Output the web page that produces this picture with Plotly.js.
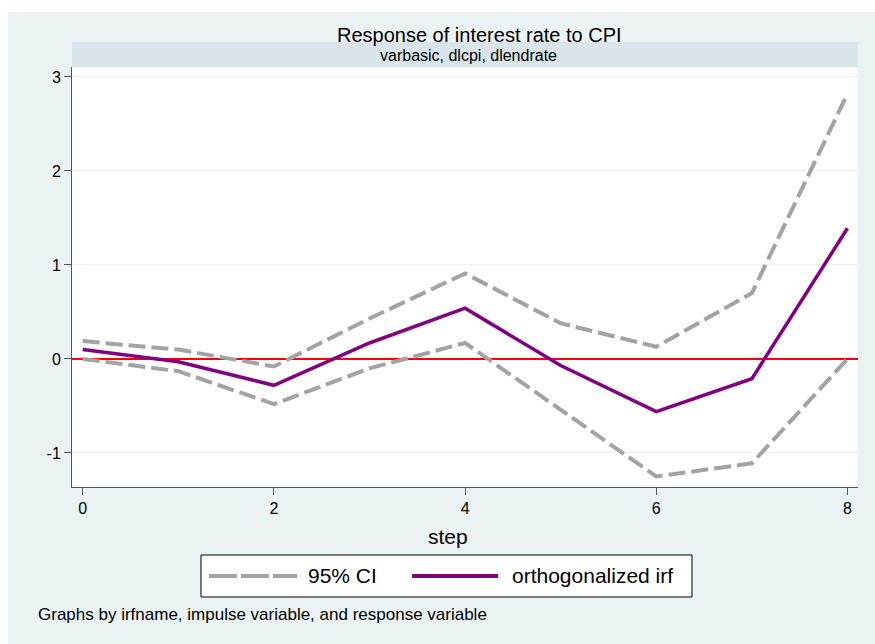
<!DOCTYPE html>
<html>
<head>
<meta charset="utf-8">
<script src="https://cdn.plot.ly/plotly-3.0.1.min.js"></script>
<style>
  html, body { margin: 0; padding: 0; background: #ffffff; }
  #chart { position: absolute; left: 8px; top: 12px; width: 867px; height: 632px; }
</style>
</head>
<body>
<div id="chart"></div>
<script>
// Data
const steps = [0, 1, 2, 3, 4, 5, 6, 7, 8];
const irf   = [0.10, -0.03, -0.28, 0.17, 0.54, -0.07, -0.56, -0.21, 1.39];
const ciUpper = [0.19, 0.10, -0.08, 0.43, 0.91, 0.38, 0.13, 0.70, 2.82];
const ciLower = [0.00, -0.13, -0.48, -0.10, 0.17, -0.54, -1.25, -1.11, 0.00];
const xTicks = [0, 2, 4, 6, 8];
const yTicks = [-1, 0, 1, 2, 3];
const titleText = "Response of interest rate to CPI";
const subtitleText = "varbasic, dlcpi, dlendrate";
const legendLabels = ["95% CI", "orthogonalized irf"];
const noteText = "Graphs by irfname, impulse variable, and response variable";

const FONT = "Liberation Sans, Arial, sans-serif";
const GRAY = "#a3a3a3";
const PURPLE = "#800080";

const traces = [
  { x: steps, y: ciUpper, mode: "lines", line: { color: GRAY, width: 4, dash: "17px,6px" }, showlegend: false, hoverinfo: "skip" },
  { x: steps, y: ciLower, mode: "lines", line: { color: GRAY, width: 4, dash: "17px,6px" }, showlegend: false, hoverinfo: "skip" },
  { x: steps, y: irf, mode: "lines", line: { color: PURPLE, width: 3.5 }, showlegend: false, hoverinfo: "skip" }
];

const layout = {
  width: 867, height: 632,
  margin: { l: 64, r: 17, t: 55, b: 157 },
  paper_bgcolor: "#eaf2f3",
  plot_bgcolor: "#ffffff",
  font: { family: FONT, size: 16, color: "#000" },
  showlegend: false,
  xaxis: {
    range: [-0.112, 8.11],
    tickvals: xTicks, ticktext: xTicks.map(String),
    ticks: "outside", ticklen: 7, tickcolor: "#555", tickwidth: 1,
    showline: true, linecolor: "#555", linewidth: 1,
    showgrid: false, zeroline: false,
    tickfont: { family: FONT, size: 16, color: "#000" }
  },
  yaxis: {
    range: [-1.362, 3.106],
    tickvals: yTicks, ticktext: yTicks.map(String),
    ticks: "outside", ticklen: 7, tickcolor: "#555", tickwidth: 1,
    showline: true, linecolor: "#555", linewidth: 1,
    showgrid: true, gridcolor: "#e8f0f1", gridwidth: 1,
    zeroline: true, zerolinecolor: "#ff0000", zerolinewidth: 2,
    tickfont: { family: FONT, size: 16, color: "#000" }
  },
  shapes: [
    // strip above plot
    { type: "rect", xref: "paper", yref: "paper", x0: 0, x1: 1, y0: 1, y1: 1 + 25/420,
      fillcolor: "#d9e5eb", line: { width: 0 }, layer: "below" },
    // legend box
    { type: "rect", xref: "paper", yref: "paper", x0: 0.1641, x1: 0.7888, y0: -0.2619, y1: -0.1619,
      fillcolor: "#ffffff", line: { color: "#000", width: 1 } },
    { type: "line", xref: "paper", yref: "paper", x0: 0.1743, x1: 0.2863, y0: -0.2119, y1: -0.2119,
      line: { color: GRAY, width: 4, dash: "28px,4px" } },
    { type: "line", xref: "paper", yref: "paper", x0: 0.4326, x1: 0.5420, y0: -0.2119, y1: -0.2119,
      line: { color: PURPLE, width: 4 } }
  ],
  annotations: [
    { text: titleText, xref: "paper", yref: "paper", x: 0.3346, y: 1.0762, xanchor: "left", yanchor: "middle",
      showarrow: false, font: { family: FONT, size: 20, color: "#000" } },
    { text: subtitleText, xref: "paper", yref: "paper", x: 0.5045, y: 1.0262, xanchor: "center", yanchor: "middle",
      showarrow: false, font: { family: FONT, size: 16, color: "#000" } },
    { text: "step", xref: "paper", yref: "paper", x: 0.4784, y: -0.1167, xanchor: "center", yanchor: "middle",
      showarrow: false, font: { family: FONT, size: 21, color: "#000" } },
    { text: legendLabels[0], xref: "paper", yref: "paper", x: 0.2977, y: -0.2119, xanchor: "left", yanchor: "middle",
      showarrow: false, font: { family: FONT, size: 21, color: "#000" } },
    { text: legendLabels[1], xref: "paper", yref: "paper", x: 0.5573, y: -0.2119, xanchor: "left", yanchor: "middle",
      showarrow: false, font: { family: FONT, size: 21, color: "#000" } },
    { text: noteText, xref: "paper", yref: "paper", x: -0.0458, y: -0.3024, xanchor: "left", yanchor: "middle",
      showarrow: false, font: { family: FONT, size: 17, color: "#000" } }
  ]
};

Plotly.newPlot("chart", traces, layout, { staticPlot: true, displayModeBar: false });
</script>
</body>
</html>
